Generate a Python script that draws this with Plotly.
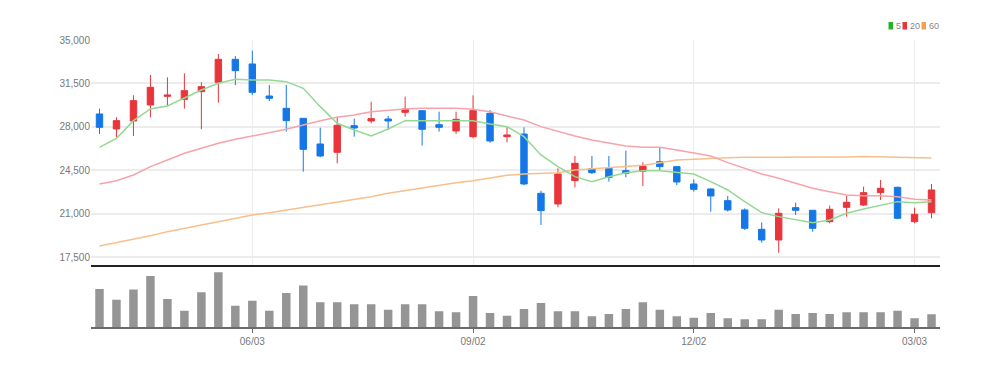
import pandas as pd
import plotly.graph_objects as go

# ---- data (weekly candles) ----
dates = [d.strftime("%Y-%m-%d") for d in pd.date_range("2024-04-01", periods=50, freq="7D")]

opens = [29042, 27834, 28478, 29766, 30464, 30222, 30840, 31591, 33443, 33068,
         30491, 29498, 28693, 26626, 25955, 28102, 28478, 28639, 29176, 29310,
         28183, 27673, 27216, 29095, 27216, 27431, 22654, 21795, 23674, 24640,
         24667, 24479, 24425, 25203, 24801, 23405, 23003, 22063, 21312, 19755,
         18896, 21499, 21285, 20372, 21526, 21714, 22707, 23137, 20372, 21097]
highs = [29471, 28773, 30545, 32182, 31994, 32316, 31591, 33873, 33712, 34141,
         31377, 31377, 28693, 27941, 28827, 28666, 30035, 28880, 30437, 29364,
         29229, 29229, 30545, 29364, 27968, 27968, 22868, 24667, 25660, 25660,
         25660, 26089, 25150, 26358, 24854, 23781, 23056, 22439, 21446, 20319,
         21446, 21902, 21312, 21661, 22466, 23190, 23727, 23190, 21499, 23405]
lows = [27431, 27163, 27270, 28773, 29686, 29471, 27807, 29954, 31377, 30571,
        30088, 27619, 24398, 25552, 25069, 27216, 28290, 27753, 28827, 26492,
        27619, 27431, 27082, 26733, 26760, 23300, 20104, 21527, 23137, 24210,
        23593, 23942, 23244, 24479, 23325, 22788, 21177, 21177, 19701, 18681,
        17876, 20909, 19567, 20238, 20775, 21634, 22117, 20600, 20238, 20641]
closes = [27968, 28505, 30115, 31189, 30571, 30920, 31242, 33443, 32531, 30786,
          30303, 28505, 26196, 25660, 28129, 27914, 28666, 28478, 29444, 27807,
          27968, 28612, 29310, 26867, 27351, 23405, 21258, 24210, 25069, 24318,
          23942, 24264, 24854, 24801, 23566, 22976, 22439, 21312, 19835, 18896,
          21043, 21285, 19835, 21365, 21929, 22707, 23056, 20641, 20963, 22922]

ma5 = [26358, 27082, 28505, 29444, 29686, 30303, 30974, 31511, 31833, 31779,
       31779, 31645, 31108, 29632, 28290, 27753, 27270, 27834, 28505, 28505,
       28505, 28505, 28505, 28236, 28022, 27217, 25740, 24800, 23995, 23593,
       23995, 24318, 24479, 24479, 24318, 24210, 23593, 22922, 21983, 21097,
       20775, 20560, 20292, 20506, 21043, 21392, 21714, 21983, 21902, 21983]
ma20 = [23405, 23673, 24130, 24800, 25338, 25875, 26277, 26680, 27002, 27270,
        27485, 27807, 28156, 28505, 28773, 28961, 29229, 29364, 29444, 29498,
        29498, 29498, 29417, 29229, 28880, 28559, 28022, 27619, 27270, 26948,
        26680, 26465, 26358, 26358, 26143, 25928, 25660, 25123, 24667, 24210,
        23861, 23459, 23056, 22788, 22519, 22466, 22466, 22385, 22171, 22117]
ma60 = [18413, 18681, 18949, 19244, 19567, 19809, 20104, 20372, 20641, 20909,
        21097, 21312, 21500, 21768, 21983, 22171, 22385, 22654, 22868, 23137,
        23324, 23513, 23673, 23861, 24103, 24210, 24264, 24318, 24533, 24640,
        24747, 24801, 24909, 25123, 25338, 25392, 25472, 25526, 25553, 25553,
        25553, 25553, 25540, 25553, 25580, 25610, 25590, 25570, 25530, 25499]

volumes = [114, 82, 112, 153, 84, 49, 104, 164, 64, 79,
           49, 102, 124, 74, 74, 68, 68, 52, 68, 68,
           47, 44, 93, 42, 34, 54, 72, 47, 47, 32,
           39, 54, 74, 52, 32, 28, 42, 26, 23, 23,
           52, 39, 42, 39, 44, 44, 44, 49, 26, 38]

price_ticks = [17500, 21000, 24500, 28000, 31500, 35000]
price_tick_text = ["17,500", "21,000", "24,500", "28,000", "31,500", "35,000"]
x_tick_dates = ["2024-06-03", "2024-09-02", "2024-12-02", "2025-03-03"]
x_tick_text = ["06/03", "09/02", "12/02", "03/03"]

legend_labels = ["5", "20", "60"]

# ---- styles ----
RED = "#e8353b"
BLUE = "#1577e6"
FONT = "Liberation Sans Narrow, Arial Narrow, Liberation Sans, sans-serif"

# the page body has an 8px margin, so the figure is sized/offset accordingly
OFF = 8
W, H = 1004 - OFF, 367 - OFF
ML, MR, MT, MB = 91 - OFF, 64, 40 - OFF, 40

fig = go.Figure()

fig.add_trace(go.Scatter(x=dates, y=ma60, mode="lines", line=dict(color="#f8bf8c", width=1.5),
                         xaxis="x", yaxis="y", hoverinfo="skip"))
fig.add_trace(go.Scatter(x=dates, y=ma20, mode="lines", line=dict(color="#f6a3aa", width=1.5),
                         xaxis="x", yaxis="y", hoverinfo="skip"))
fig.add_trace(go.Scatter(x=dates, y=ma5, mode="lines", line=dict(color="#93d993", width=1.5),
                         xaxis="x", yaxis="y", hoverinfo="skip"))

fig.add_trace(go.Candlestick(
    x=dates, open=opens, high=highs, low=lows, close=closes,
    increasing=dict(line=dict(color=RED, width=1), fillcolor=RED),
    decreasing=dict(line=dict(color=BLUE, width=1), fillcolor=BLUE),
    whiskerwidth=0, xaxis="x", yaxis="y", hoverinfo="skip"))

fig.add_trace(go.Bar(x=dates, y=volumes, marker=dict(color="#959595", line=dict(width=0)),
                     xaxis="x2", yaxis="y2", hoverinfo="skip"))

fig.update_layout(
    width=W, height=H,
    margin=dict(l=ML, r=MR, t=MT, b=MB),
    paper_bgcolor="white", plot_bgcolor="white",
    showlegend=False,
    bargap=0.5,
    boxgap=0.46,
    font=dict(family=FONT, size=10, color="#777"),
    xaxis=dict(type="category", domain=[0, 1], anchor="y", range=[-0.5, 49.5],
               rangeslider=dict(visible=False),
               tickvals=x_tick_dates, ticktext=x_tick_text, showticklabels=False,
               showgrid=True, gridcolor="#ececec", gridwidth=1,
               showline=True, linecolor="#222", linewidth=2, ticks="", zeroline=False),
    yaxis=dict(domain=[0.216, 1], anchor="x", range=[16880, 35000],
               tickvals=price_ticks, ticktext=price_tick_text,
               showgrid=True, gridcolor="#ececec", gridwidth=1.5,
               zeroline=False, ticks="", showline=False,
               tickfont=dict(family=FONT, size=10, color="#777")),
    xaxis2=dict(type="category", domain=[0, 1], anchor="y2", range=[-0.5, 49.5],
                matches="x",
                tickvals=x_tick_dates, ticktext=x_tick_text,
                showgrid=False, showline=True, linecolor="#6a6a6a", linewidth=2,
                ticks="outside", ticklen=4, tickcolor="#6a6a6a", tickwidth=1,
                tickfont=dict(family=FONT, size=10, color="#777")),
    yaxis2=dict(domain=[0, 0.2], anchor="x2", range=[0, 172],
                showgrid=False, showticklabels=False, zeroline=False, showline=False),
)

# custom legend (top right), positions given in page pixels
plot_l, plot_r, plot_t, plot_b = 91, 940, 40, 327
def px_x(p):
    return (p - plot_l) / (plot_r - plot_l)
def px_y(p):
    return (plot_b - p) / (plot_b - plot_t)

legend_items = [(888.5, "#22b522", legend_labels[0]), (902.5, "#e8353b", legend_labels[1]),
                (921.5, "#f3a050", legend_labels[2])]
for sx, col, lab in legend_items:
    fig.add_shape(type="rect", xref="paper", yref="paper",
                  x0=px_x(sx), x1=px_x(sx + 4.5), y0=px_y(29.5), y1=px_y(22),
                  fillcolor=col, line=dict(width=0))
    fig.add_annotation(xref="paper", yref="paper", x=px_x(sx + 5.5), y=px_y(25.8),
                       text=lab, showarrow=False, xanchor="left", yanchor="middle",
                       font=dict(family=FONT, size=9, color="#888"))

fig.write_html("out.html")
